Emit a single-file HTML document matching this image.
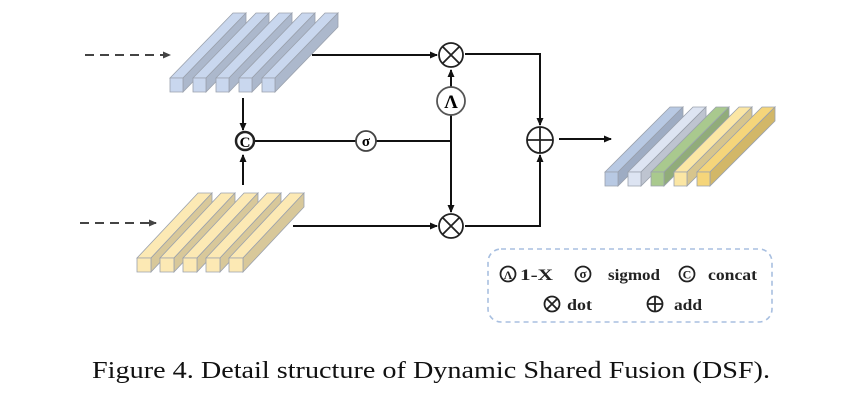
<!DOCTYPE html>
<html><head><meta charset="utf-8"><style>
html,body{margin:0;padding:0;background:#fff;width:849px;height:407px;overflow:hidden}
svg{display:block}
text{font-family:"Liberation Serif",serif}
</style></head><body>
<svg id="s" width="849" height="407" viewBox="0 0 849 407" xmlns="http://www.w3.org/2000/svg">
<defs>
<marker id="a" markerWidth="8" markerHeight="8" refX="7" refY="4" orient="auto" markerUnits="userSpaceOnUse"><path d="M0,0.5 L8,4 L0,7.5z" fill="#111"/></marker>
<marker id="g" markerWidth="8" markerHeight="8" refX="7" refY="4" orient="auto" markerUnits="userSpaceOnUse"><path d="M0,0.5 L8,4 L0,7.5z" fill="#444"/></marker>
</defs>
<g id="bars"></g>
<g stroke="#111" stroke-width="2" fill="none">
<line x1="85" y1="55" x2="170" y2="55" stroke="#444" stroke-dasharray="9,6" marker-end="url(#g)"/>
<line x1="80" y1="223" x2="156" y2="223" stroke="#444" stroke-dasharray="9,6" marker-end="url(#g)"/>
<line x1="312" y1="55" x2="437" y2="55" marker-end="url(#a)"/>
<line x1="293" y1="226" x2="437" y2="226" marker-end="url(#a)"/>
<line x1="243" y1="98" x2="243" y2="130" marker-end="url(#a)"/>
<line x1="243" y1="185" x2="243" y2="155" marker-end="url(#a)"/>
<line x1="254" y1="141" x2="356" y2="141"/>
<line x1="376" y1="141" x2="451" y2="141"/>
<line x1="451" y1="115" x2="451" y2="70" marker-end="url(#a)"/>
<line x1="451" y1="115" x2="451" y2="212" marker-end="url(#a)"/>
<polyline points="465,54 540,54 540,125" marker-end="url(#a)"/>
<polyline points="465,226 540,226 540,155" marker-end="url(#a)"/>
<line x1="559" y1="139" x2="611" y2="139" marker-end="url(#a)"/>
</g>
<g stroke="#222" stroke-width="1.8" fill="#fff">
<circle cx="451" cy="55" r="12"/><path d="M443,47 L459,63 M459,47 L443,63"/>
<circle cx="451" cy="226" r="12"/><path d="M443,218 L459,234 M459,218 L443,234"/>
<circle cx="540" cy="140" r="13"/><path d="M527,140 H553 M540,127 V153"/>
<circle cx="451" cy="101" r="14" stroke="#555"/>
<circle cx="366" cy="141" r="10" stroke="#444"/>
<circle cx="245" cy="141" r="9" stroke-width="2.5"/>
</g>
<text x="451" y="108" font-size="19" font-weight="bold" text-anchor="middle" font-family="Liberation Sans,sans-serif">Λ</text>
<text x="366" y="146" font-size="15" font-weight="bold" text-anchor="middle">σ</text>
<text x="245" y="147" font-size="15" font-weight="bold" text-anchor="middle" font-family="Liberation Sans,sans-serif">C</text>
<rect x="488" y="249" width="284" height="73" rx="13" fill="none" stroke="#a8bfe0" stroke-width="1.6" stroke-dasharray="5,4"/>
<g stroke="#222" stroke-width="1.8" fill="#fff">
<circle cx="508" cy="274" r="7.5"/><circle cx="583" cy="274" r="7.5"/><circle cx="687" cy="274" r="7.5"/>
<circle cx="552" cy="304" r="7.5"/><path d="M547,299 L557,309 M557,299 L547,309"/>
<circle cx="655" cy="304" r="7.5"/><path d="M647.5,304 H662.5 M655,296.5 V311.5"/>
</g>
<g font-size="16" font-weight="bold" fill="#222">
<text x="508" y="279" font-size="12" text-anchor="middle" font-family="Liberation Sans,sans-serif">Λ</text>
<text x="583" y="278" font-size="13" text-anchor="middle">σ</text>
<text x="687" y="278.5" font-size="12" text-anchor="middle" font-family="Liberation Sans,sans-serif">C</text>
<text x="520" y="280" textLength="33" lengthAdjust="spacingAndGlyphs">1-X</text>
<text x="608" y="280" textLength="52" lengthAdjust="spacingAndGlyphs">sigmod</text>
<text x="708" y="280" textLength="49" lengthAdjust="spacingAndGlyphs">concat</text>
<text x="567" y="310" textLength="25" lengthAdjust="spacingAndGlyphs">dot</text>
<text x="674" y="310" textLength="28" lengthAdjust="spacingAndGlyphs">add</text>
</g>
<text x="92" y="378" font-size="24" fill="#111" textLength="678" lengthAdjust="spacingAndGlyphs">Figure 4. Detail structure of Dynamic Shared Fusion (DSF).</text>
</svg>
<script>
(function(){
var g=document.getElementById('bars'),ns='http://www.w3.org/2000/svg';
function sh(c,f){var p=parseInt(c.slice(1),16),r=(p>>16)*f|0,gg=((p>>8)&255)*f|0,b=(p&255)*f|0;return 'rgb('+r+','+gg+','+b+')';}
function poly(pts,fill){var e=document.createElementNS(ns,'polygon');e.setAttribute('points',pts.map(function(p){return p.join(',')}).join(' '));e.setAttribute('fill',fill);e.setAttribute('stroke','#9aa1ad');e.setAttribute('stroke-width','0.8');g.appendChild(e);}
function bar(x,y,w,h,dx,dy,c){
poly([[x,y],[x+dx,y+dy],[x+w+dx,y+dy],[x+w,y]],sh(c,1));
poly([[x+w,y],[x+w+dx,y+dy],[x+w+dx,y+dy+h],[x+w,y+h]],sh(c,0.86));
poly([[x,y],[x+w,y],[x+w,y+h],[x,y+h]],c);}
var i;
for(i=0;i<5;i++)bar(170+23*i,78,13,14,63,-65,'#c9d7ee');
for(i=0;i<5;i++)bar(137+23*i,258,14,14,61,-65,'#fce9b4');
var oc=['#b8c9e3','#dde4f2','#a9c98e','#fbe6a4','#f5d57a'];
for(i=0;i<5;i++)bar(605+23*i,172,13,14,65,-65,oc[i]);
})();
</script>
</body></html>
